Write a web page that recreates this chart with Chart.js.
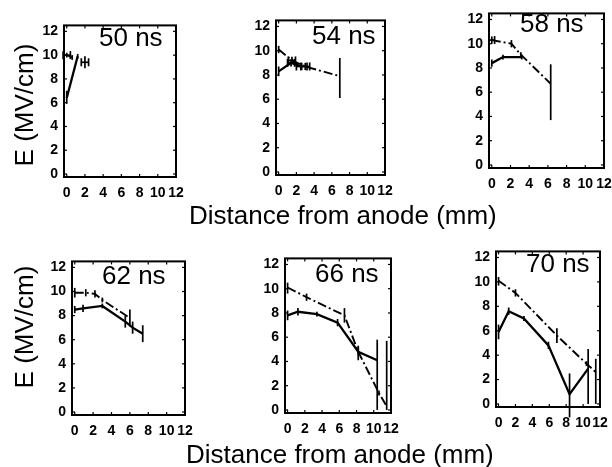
<!DOCTYPE html>
<html><head><meta charset="utf-8">
<script src="https://cdn.jsdelivr.net/npm/chart.js@4"></script>
<style>
html,body{margin:0;padding:0;background:#fff;}
body{width:612px;height:467px;position:relative;overflow:hidden;font-family:"Liberation Sans",Arial,sans-serif;}
canvas.pc{position:absolute;}
.lbl{position:absolute;white-space:nowrap;color:#000;font-size:26px;line-height:26px;}
.ylab{position:absolute;white-space:nowrap;color:#000;font-size:26px;line-height:26px;transform:translate(-50%,-50%) rotate(-90deg);}
</style></head><body>
<script>
// ---------- data ----------
const panelLabels = ["50 ns", "54 ns", "58 ns", "62 ns", "66 ns", "70 ns"];
const xTickValues = [0, 2, 4, 6, 8, 10, 12];
const yTickValues = [0, 2, 4, 6, 8, 10, 12];
const xTitle = "Distance from anode (mm)";
const yTitle = "E (MV/cm)";

// 50 ns
const p50SolidX = [0, 1.2];
const p50SolidY = [6.4, 9.9];
const p50SolidErr = [[0.5, 0.6], [0.2, 0.2]];
const p50MarkX = [2.0];
const p50MarkY = [9.4];
const p50MarkErr = [[0.5, 0.5]];
const p50MarkXErr = [0.4];
const p50DashX = [0, 0.6];
const p50DashY = [10.0, 9.8];
const p50DashErr = [[0.2, 0.2], [0.2, 0.2]];
const p50DashXErr = [0.4, 0];

// 54 ns
const p54SolidX = [0, 1.4, 2.6];
const p54SolidY = [8.3, 9.0, 8.7];
const p54SolidErr = [[0.4, 0.4], [0.3, 0.3], [0.3, 0.3]];
const p54SolidXErr = [0, 0.4, 0.6];
const p54DashX = [0, 1.5, 3.0, 6.9];
const p54DashY = [10.1, 9.2, 8.7, 7.9];
const p54DashErr = [[0.3, 0.3], [0.3, 0.3], [0.3, 0.3], [1.8, 1.5]];
const p54DashXErr = [0, 0.4, 0.5, 0];

// 58 ns
const p58SolidX = [0, 1.2, 3.2];
const p58SolidY = [8.4, 8.9, 8.9];
const p58SolidErr = [[0.3, 0.3], [0.2, 0.2], [0.2, 0.2]];
const p58DashX = [0, 2.1, 3.1, 6.3];
const p58DashY = [10.3, 10.0, 9.1, 6.7];
const p58DashErr = [[0.3, 0.3], [0.3, 0.3], [0.2, 0.2], [3.0, 1.6]];
const p58DashXErr = [0.3, 0, 0, 0];

// 62 ns
const p62SolidX = [0, 0.9, 3.0, 5.5, 6.3, 7.4];
const p62SolidY = [8.5, 8.6, 8.8, 7.5, 7.0, 6.5];
const p62SolidErr = [[0.3, 0.3], [0.3, 0.3], [0.2, 0.2], [0.5, 0.5], [0.5, 0.5], [0.7, 0.7]];
const p62DashX = [0, 1.2, 2.2, 3.0, 6.0];
const p62DashY = [9.9, 9.9, 9.8, 9.3, 7.8];
const p62DashErr = [[0.4, 0.4], [0.3, 0.3], [0.3, 0.3], [0.2, 0.2], [0.7, 0.7]];

// 66 ns
const p66SolidX = [0, 1.2, 3.4, 5.8, 8.2, 10.4];
const p66SolidY = [7.8, 8.1, 7.9, 7.2, 4.8, 4.1];
const p66SolidErr = [[0.4, 0.4], [0.3, 0.3], [0.2, 0.2], [0.3, 0.3], [0.7, 0.5], [4.1, 1.7]];
const p66DashX = [0, 2.2, 6.6, 8.2, 10.6, 11.5];
const p66DashY = [10.1, 9.3, 7.8, 4.8, 1.4, 0.3];
const p66DashErr = [[0.5, 0.4], [0.3, 0.3], [0.6, 0.6], [0.3, 0.3], [0.2, 0.2], [0.3, 5.4]];

// 70 ns
const p70SolidX = [0, 1.2, 3.0, 5.9, 8.4, 10.6];
const p70SolidY = [5.9, 7.6, 7.0, 4.8, 0.8, 2.9];
const p70SolidErr = [[0.6, 0.6], [0.3, 0.3], [0.2, 0.2], [0.3, 0.3], [1.9, 1.7], [2.9, 1.6]];
const p70DashX = [0, 2.0, 6.9, 10.4, 11.5];
const p70DashY = [10.1, 9.1, 5.6, 3.3, 2.6];
const p70DashErr = [[0.4, 0.3], [0.3, 0.3], [0.6, 0.6], [0.2, 0.2], [2.6, 1.1]];

// ---------- helpers ----------
function series(xs, ys, errY, errX, dashed, showLine) {
  return {
    data: xs.map((x, i) => ({x: x, y: ys[i]})),
    borderColor: '#000', backgroundColor: '#000',
    borderWidth: dashed ? 1.9 : 2.3,
    borderDash: dashed ? [9, 3, 2, 3] : [],
    pointRadius: 0, tension: 0, fill: false,
    showLine: showLine !== false,
    errY: errY || null, errX: errX || null
  };
}

const errorBars = {
  id: 'errorBars',
  afterDatasetsDraw(chart) {
    const ctx = chart.ctx, xs = chart.scales.x, ys = chart.scales.y;
    ctx.save();
    ctx.strokeStyle = '#000'; ctx.lineWidth = 1.7; ctx.setLineDash([]);
    const ln = (a, b, c, d) => { ctx.beginPath(); ctx.moveTo(a, b); ctx.lineTo(c, d); ctx.stroke(); };
    chart.data.datasets.forEach(ds => {
      ds.data.forEach((p, i) => {
        const px = xs.getPixelForValue(p.x), py = ys.getPixelForValue(p.y);
        const e = ds.errY && ds.errY[i];
        if (e) ln(px, ys.getPixelForValue(p.y - e[0]), px, ys.getPixelForValue(p.y + e[1]));
        const ex = ds.errX && ds.errX[i];
        if (ex) {
          const a = xs.getPixelForValue(p.x - ex), b = xs.getPixelForValue(p.x + ex);
          ln(a, py, b, py); ln(a, py - 4, a, py + 4); ln(b, py - 4, b, py + 4);
        }
      });
    });
    ctx.restore();
  }
};

const frame = {
  id: 'frame',
  afterDraw(chart) {
    const ctx = chart.ctx, a = chart.chartArea, xs = chart.scales.x, ys = chart.scales.y;
    ctx.save();
    ctx.strokeStyle = '#000'; ctx.lineWidth = 2; ctx.setLineDash([]);
    ctx.strokeRect(a.left, a.top, a.right - a.left, a.bottom - a.top);
    ctx.lineWidth = 1.2;
    const ln = (p, q, r, s) => { ctx.beginPath(); ctx.moveTo(p, q); ctx.lineTo(r, s); ctx.stroke(); };
    xTickValues.forEach(v => { const px = xs.getPixelForValue(v); if (px > a.left + 2 && px < a.right - 2) { ln(px, a.bottom, px, a.bottom - 3); ln(px, a.top, px, a.top + 3); } });
    yTickValues.forEach(v => { const py = ys.getPixelForValue(v); if (py > a.top + 2 && py < a.bottom - 2) { ln(a.left, py, a.left + 3, py); ln(a.right, py, a.right - 3, py); } });
    ctx.restore();
  }
};

const panels = [
  {box: {l: 64, t: 19, r: 176, b: 177}, lab: [99, 23.6], ds: [
    series(p50SolidX, p50SolidY, p50SolidErr, null, false),
    series(p50MarkX, p50MarkY, p50MarkErr, p50MarkXErr, false, false),
    series(p50DashX, p50DashY, p50DashErr, p50DashXErr, true)]},
  {box: {l: 276, t: 14, r: 385, b: 175}, lab: [312, 21.6], ds: [
    series(p54SolidX, p54SolidY, p54SolidErr, p54SolidXErr, false),
    series(p54DashX, p54DashY, p54DashErr, p54DashXErr, true)]},
  {box: {l: 489, t: 7, r: 604, b: 168}, lab: [520, 9.6], ds: [
    series(p58SolidX, p58SolidY, p58SolidErr, null, false),
    series(p58DashX, p58DashY, p58DashErr, p58DashXErr, true)]},
  {box: {l: 72, t: 255, r: 185, b: 415}, lab: [102, 261.6], ds: [
    series(p62SolidX, p62SolidY, p62SolidErr, null, false),
    series(p62DashX, p62DashY, p62DashErr, null, true)]},
  {box: {l: 285, t: 252, r: 391, b: 413}, lab: [315, 259.6], ds: [
    series(p66SolidX, p66SolidY, p66SolidErr, null, false),
    series(p66DashX, p66DashY, p66DashErr, null, true)]},
  {box: {l: 496, t: 245, r: 600, b: 407}, lab: [526, 249.6], ds: [
    series(p70SolidX, p70SolidY, p70SolidErr, null, false),
    series(p70DashX, p70DashY, p70DashErr, null, true)]}
];

const YW = 30, PT = 8, PR = 16, XH = 32;
const tickFont = {family: "Arial, 'Liberation Sans', sans-serif", weight: 'bold', size: 14};

panels.forEach((p, k) => {
  const b = p.box, w = b.r - b.l, h = b.b - b.t;
  const cv = document.createElement('canvas');
  cv.className = 'pc';
  cv.width = w + YW + PR; cv.height = h + PT + XH;
  cv.style.left = (b.l - YW) + 'px'; cv.style.top = (b.t - PT) + 'px';
  cv.style.width = cv.width + 'px'; cv.style.height = cv.height + 'px';
  document.body.appendChild(cv);
  new Chart(cv, {
    type: 'line',
    data: {datasets: p.ds},
    options: {
      responsive: false, animation: false, devicePixelRatio: 1,
      layout: {padding: {top: PT, right: PR, left: 0, bottom: 0}},
      plugins: {legend: {display: false}, tooltip: {enabled: false}, title: {display: false}},
      scales: {
        x: {type: 'linear', min: -0.3, max: 12,
          afterBuildTicks: s => { s.ticks = xTickValues.map(v => ({value: v})); },
          afterFit: s => { s.height = XH; },
          grid: {display: false, drawTicks: false}, border: {display: false},
          ticks: {autoSkip: false, maxRotation: 0, padding: 8, color: '#000', font: tickFont, callback: v => String(v)}},
        y: {type: 'linear', min: -0.25, max: 12.5,
          afterBuildTicks: s => { s.ticks = yTickValues.map(v => ({value: v})); },
          afterFit: s => { s.width = YW; },
          grid: {display: false, drawTicks: false}, border: {display: false},
          ticks: {autoSkip: false, padding: 6, color: '#000', font: tickFont, callback: v => String(v)}}
      }
    },
    plugins: [errorBars, frame]
  });
  const d = document.createElement('div');
  d.className = 'lbl';
  d.textContent = panelLabels[k];
  d.style.left = p.lab[0] + 'px'; d.style.top = p.lab[1] + 'px';
  document.body.appendChild(d);
});

[[189, 201.6], [186, 440.6]].forEach(pos => {
  const d = document.createElement('div');
  d.className = 'lbl'; d.textContent = xTitle;
  d.style.left = pos[0] + 'px'; d.style.top = pos[1] + 'px';
  document.body.appendChild(d);
});
[[24, 105], [24, 327]].forEach(pos => {
  const d = document.createElement('div');
  d.className = 'ylab'; d.textContent = yTitle;
  d.style.left = pos[0] + 'px'; d.style.top = pos[1] + 'px';
  document.body.appendChild(d);
});
</script>
</body></html>
